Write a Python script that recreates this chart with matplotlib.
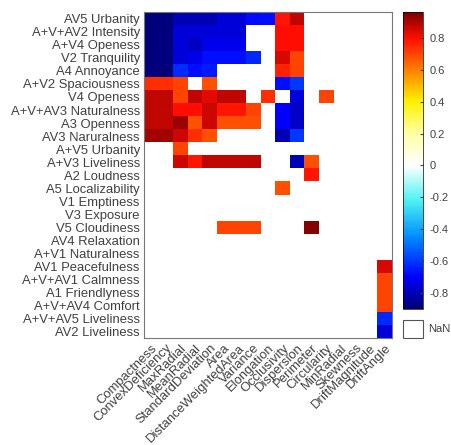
import numpy as np
import matplotlib
matplotlib.use("Agg")
import matplotlib.pyplot as plt
from matplotlib.colors import LinearSegmentedColormap, Normalize
from matplotlib.patches import Rectangle

n = np.nan

row_labels = [
    "AV5 Urbanity", "A+V+AV2 Intensity", "A+V4 Openess", "V2 Tranquility",
    "A4 Annoyance", "A+V2 Spaciousness", "V4 Openess", "A+V+AV3 Naturalness",
    "A3 Openness", "AV3 Naruralness", "A+V5 Urbanity", "A+V3 Liveliness",
    "A2 Loudness", "A5 Localizability", "V1 Emptiness", "V3 Exposure",
    "V5 Cloudiness", "AV4 Relaxation", "A+V1 Naturalness", "AV1 Peacefulness",
    "A+V+AV1 Calmness", "A1 Friendlyness", "A+V+AV4 Comfort",
    "A+V+AV5 Liveliness", "AV2 Liveliness",
]

col_labels = [
    "Compactness", "ConvexDeficiency", "MaxRadial", "MeanRadial",
    "StandardDeviation", "Area", "DistanceWeightedArea", "Variance",
    "Elongation", "Occlusivity", "Dispersion", "Perimeter", "Circularity",
    "MinRadial", "Skewness", "DriftMagnitude", "DriftAngle",
]

# correlation values, NaN = not significant
corr = [
    [-0.88, -0.88, -0.80, -0.80, -0.80, -0.75, -0.75, -0.68, -0.67, 0.78, 0.88, n, n, n, n, n, n],
    [-0.88, -0.88, -0.75, -0.75, -0.75, -0.75, -0.75, n, n, 0.80, 0.80, n, n, n, n, n, n],
    [-0.88, -0.88, -0.75, -0.78, -0.72, -0.72, -0.72, n, n, 0.80, 0.80, n, n, n, n, n, n],
    [-0.88, -0.88, -0.75, -0.72, -0.67, -0.67, -0.67, -0.63, n, 0.85, 0.70, n, n, n, n, n, n],
    [-0.88, -0.88, -0.62, -0.67, -0.65, n, n, n, n, 0.76, 0.70, n, n, n, n, n, n],
    [0.74, 0.74, 0.70, n, 0.68, n, n, n, n, -0.67, -0.60, n, n, n, n, n, n],
    [0.88, 0.88, 0.70, 0.88, 0.83, 0.88, 0.88, n, 0.74, n, -0.75, n, 0.70, n, n, n, n],
    [0.88, 0.88, 0.80, 0.80, 0.86, 0.78, 0.78, 0.70, n, -0.70, -0.77, n, n, n, n, n, n],
    [0.88, 0.88, 0.92, 0.68, 0.86, 0.68, 0.68, 0.68, n, -0.70, -0.77, n, n, n, n, n, n],
    [0.91, 0.91, 0.86, 0.74, 0.68, n, n, n, n, -0.80, -0.60, n, n, n, n, n, n],
    [n, n, 0.70, n, n, n, n, n, n, n, n, n, n, n, n, n, n],
    [n, n, 0.86, 0.78, 0.88, 0.88, 0.88, 0.88, n, n, -0.80, 0.68, n, n, n, n, n],
    [n, n, n, n, n, n, n, n, n, n, n, 0.78, n, n, n, n, n],
    [n, n, n, n, n, n, n, n, n, 0.68, n, n, n, n, n, n, n],
    [n] * 17,
    [n] * 17,
    [n, n, n, n, n, 0.70, 0.70, 0.70, n, n, n, 0.95, n, n, n, n, n],
    [n] * 17,
    [n] * 17,
    [n, n, n, n, n, n, n, n, n, n, n, n, n, n, n, n, 0.85],
    [n, n, n, n, n, n, n, n, n, n, n, n, n, n, n, n, 0.70],
    [n, n, n, n, n, n, n, n, n, n, n, n, n, n, n, n, 0.70],
    [n, n, n, n, n, n, n, n, n, n, n, n, n, n, n, n, 0.70],
    [n, n, n, n, n, n, n, n, n, n, n, n, n, n, n, n, -0.63],
    [n, n, n, n, n, n, n, n, n, n, n, n, n, n, n, n, -0.75],
]

cbar_ticks = [-0.8, -0.6, -0.4, -0.2, 0, 0.2, 0.4, 0.6, 0.8]

VMIN, VMAX = -0.9, 0.96
TEXT = "#404040"


def make_cmap():
    nodes = [
        (-0.90, (0.0, 0.0, 0.45)),
        (-0.70, (0.0, 0.0, 1.0)),
        (-0.45, (0.0, 0.55, 1.0)),
        (-0.22, (0.3, 0.95, 0.95)),
        (0.00, (1.0, 1.0, 1.0)),
        (0.20, (1.0, 1.0, 0.65)),
        (0.40, (1.0, 0.95, 0.0)),
        (0.60, (1.0, 0.5, 0.0)),
        (0.80, (1.0, 0.05, 0.0)),
        (0.96, (0.5, 0.0, 0.0)),
    ]
    pos = [(v - VMIN) / (VMAX - VMIN) for v, _ in nodes]
    cols = [c for _, c in nodes]
    cmap = LinearSegmentedColormap.from_list("wjet", list(zip(pos, cols)), N=256)
    cmap.set_bad("white")
    return cmap


plt.rcParams["font.family"] = ["Liberation Sans", "DejaVu Sans"]

W, H = 451, 445
fig = plt.figure(figsize=(W / 100, H / 100), dpi=100)

ax_l, ax_r, ax_t, ax_b = 144, 392, 12.3, 338
ax = fig.add_axes([ax_l / W, 1 - ax_b / H, (ax_r - ax_l) / W, (ax_b - ax_t) / H])

data = np.ma.masked_invalid(np.array(corr, dtype=float))
cmap = make_cmap()
norm = Normalize(vmin=VMIN, vmax=VMAX)
im = ax.imshow(data, cmap=cmap, norm=norm, aspect="auto", interpolation="nearest")

ax.set_yticks(range(len(row_labels)))
ax.set_yticklabels(row_labels, fontsize=9.4, color=TEXT)
ax.set_xticks(range(len(col_labels)))
ax.set_xticklabels(col_labels, fontsize=9.4, color=TEXT, rotation=45,
                   ha="right", rotation_mode="anchor")
ax.tick_params(length=0, pad=3)
for s in ax.spines.values():
    s.set_color("#777777")
    s.set_linewidth(0.8)

# colorbar
cb_l, cb_r, cb_t, cb_b = 403, 423, 12.3, 309
cax = fig.add_axes([cb_l / W, 1 - cb_b / H, (cb_r - cb_l) / W, (cb_b - cb_t) / H])
cb = fig.colorbar(im, cax=cax, ticks=cbar_ticks)
cb.ax.set_yticklabels([f"{t:g}" for t in cbar_ticks], fontsize=8, color=TEXT)
cb.ax.tick_params(direction="in", length=2, color="#444444", pad=5)
cb.outline.set_linewidth(0.5)

# NaN legend box
fig.patches.append(Rectangle((cb_l / W, 1 - 338 / H), (cb_r - cb_l) / W, 18 / H,
                             transform=fig.transFigure, facecolor="white",
                             edgecolor="#555555", linewidth=0.8))
fig.text(428 / W, 1 - 329 / H, "NaN", fontsize=8, color=TEXT, va="center")

fig.savefig("out.png", dpi=100)
